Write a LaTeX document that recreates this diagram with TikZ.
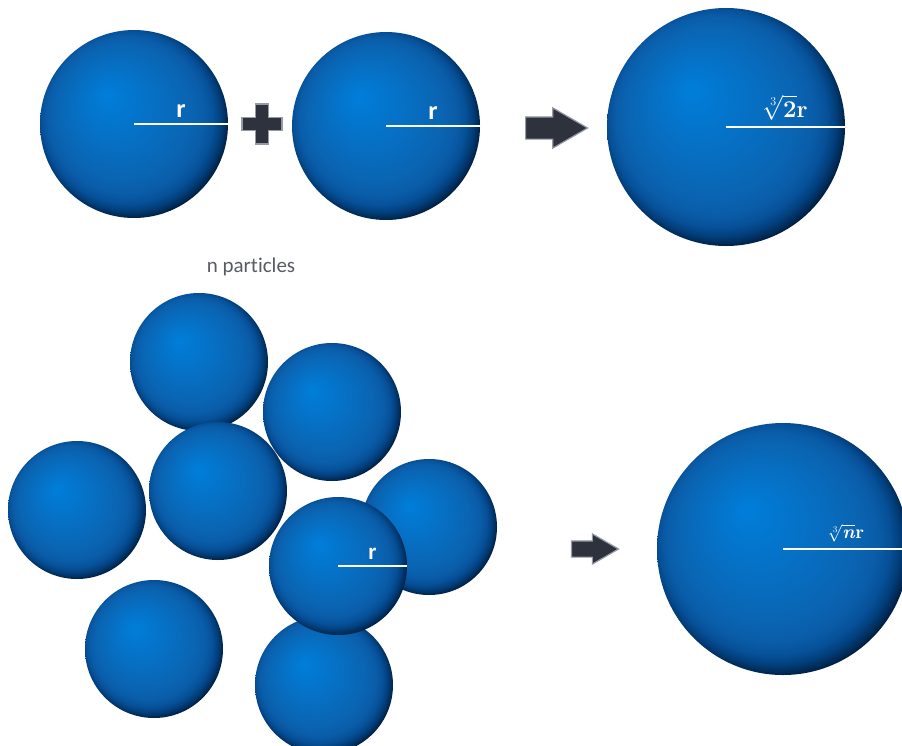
\documentclass[tikz,border=0pt]{standalone}
\usepackage{fontspec}
\setsansfont{Carlito}[Ligatures=NoCommon]
\usepackage{amsmath}
\usetikzlibrary{shapes.arrows}

\definecolor{ballhi}{RGB}{0,126,218}
\definecolor{ballmid}{RGB}{6,112,196}
\definecolor{balllow}{RGB}{10,100,178}
\definecolor{balledge}{RGB}{10,92,168}
\definecolor{ballshadow}{RGB}{6,80,152}
\definecolor{balldark}{RGB}{2,62,122}
\definecolor{ballnight}{RGB}{0,40,82}
\definecolor{ballrim}{RGB}{0,24,50}
\definecolor{arrowgray}{RGB}{46,50,60}
\definecolor{arrowedge}{RGB}{150,154,164}
\definecolor{labelgray}{RGB}{88,92,98}

% ball shading: the ball's outline lies on the 50bp ring, light spot up left
\pgfdeclareradialshading{ballshade}{\pgfpoint{-15bp}{16bp}}{%
  color(0bp)=(ballhi); color(20bp)=(ballmid); color(36bp)=(balllow);
  color(42bp)=(balledge); color(46bp)=(ballshadow); color(49bp)=(balldark);
  color(51.5bp)=(ballnight); color(53bp)=(ballrim); color(60bp)=(ballrim)}

\begin{document}
\begin{tikzpicture}[x=1pt,y=-1pt,
  ball/.style={circle,inner sep=0pt,outer sep=0pt,minimum size=#1,
    path picture={\node[inner sep=0pt,scale=#1/100.375]
      at (path picture bounding box.center) {\pgfuseshading{ballshade}};}},
  rad/.style={draw=white,line width=2.2pt},
  rlab/.style={text=white,font=\sffamily\bfseries\fontsize{26}{26}\selectfont,
    above=2pt,pos=.5},
  blockarrow/.style={single arrow,fill=arrowgray,draw=arrowedge,line width=1.2pt,
    single arrow tip angle=60,inner xsep=0pt,outer sep=0pt}]
 \clip (0,0) rectangle (902,745);
 \fill[white] (0,0) rectangle (902,745);

 % two balls merge into one
 \node[ball=188] (left) at (134,124) {};
 \node[ball=188] (right) at (386,126) {};
 \node[ball=238] (merged) at (726,127) {};
 \draw[rad] (left.center) -- node[rlab] {r} (left.east);
 \draw[rad] (right.center) -- node[rlab] {r} (right.east);
 \draw[rad] (merged.center) -- node[rlab,font=\rmfamily\bfseries\fontsize{24}{24}\selectfont]
   {$\sqrt[3]{\textbf{2}}$r} (merged.east);
 \fill[arrowgray,draw=arrowedge,line width=1.2pt]
   (255.5,104) -- (268.5,104) -- (268.5,117.5) -- (282,117.5) -- (282,130.5)
   -- (268.5,130.5) -- (268.5,144) -- (255.5,144) -- (255.5,130.5) -- (242,130.5)
   -- (242,117.5) -- (255.5,117.5) -- cycle;
 \node[blockarrow,minimum height=62,inner ysep=10.5pt,
   single arrow head extend=9pt] (go) at (547,128) {};

 % many small balls
 \node[text=labelgray,font=\sffamily\fontsize{21}{21}\selectfont] (count) at (251,267) {n particles};
 \node[ball=138] (p1) at (199,362) {};
 \node[ball=138] (p2) at (332,412) {};
 \node[ball=138] (p3) at (77,510) {};
 \node[ball=136] (p4) at (429,527) {};
 \node[ball=138] (p5) at (154,649) {};
 \node[ball=138] (p6) at (324,685) {};
 \node[ball=138] (p7) at (218,491) {};
 \node[ball=138] (p8) at (338,566) {};
 \draw[rad] (p8.center) -- node[rlab,font=\sffamily\bfseries\fontsize{23}{23}\selectfont] {r} (p8.east);
 \node[blockarrow,minimum height=47,inner ysep=7.5pt,
   single arrow head extend=7pt] (gon) at (588,549) {};
 \node[ball=252] (big) at (783,549) {};
 \draw[rad] (big.center) -- node[rlab,font=\rmfamily\bfseries\fontsize{19}{19}\selectfont]
   {$\sqrt[3]{\textbf{\textit{n}}}$r} (big.east);
\end{tikzpicture}
\end{document}
